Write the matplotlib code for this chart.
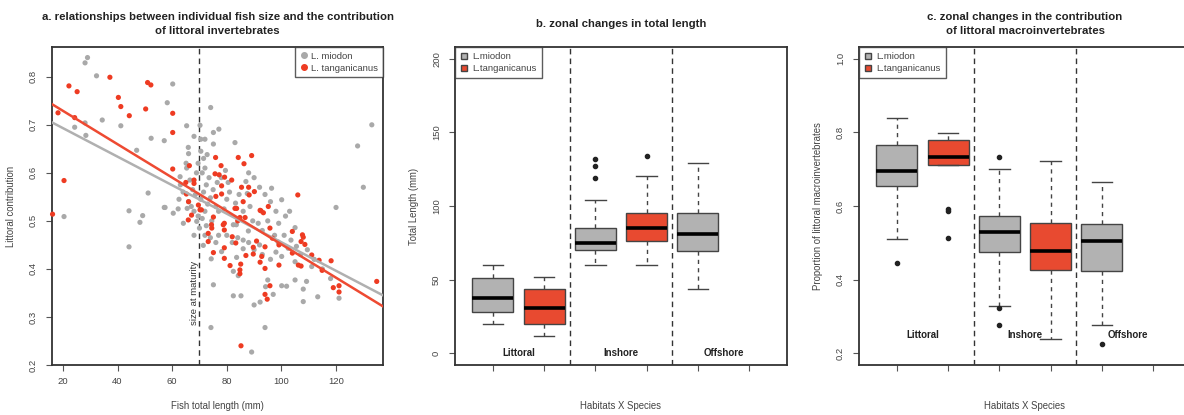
import numpy as np
import matplotlib
matplotlib.use("Agg")
import matplotlib.pyplot as plt
from matplotlib.lines import Line2D

plt.rcParams['font.family'] = ['Liberation Sans', 'DejaVu Sans']

# ---- panel a: individual fish (length mm, littoral contribution) ----
miodon_len = [29.0, 28.1, 32.3, 60.2, 58.2, 74.1, 34.4, 41.2, 28.1, 24.3, 28.4, 52.3, 57.1, 47.0,
              65.3, 70.2, 68.0, 72.0, 75.1, 77.1, 75.1, 83.0, 65.9, 72.8, 51.2, 57.1, 65.1, 100.1,
              96.4, 127.9, 130.0, 133.1, 120.0, 62.9, 68.9, 65.3, 20.4, 44.2, 49.2, 48.2, 44.2, 57.4,
              62.2, 60.4, 64.1, 69.0, 65.5, 71.4, 74.3, 75.1, 74.2, 87.0, 87.5, 83.2, 89.1, 94.0,
              90.0, 92.2, 82.4, 85.2, 97.0, 94.2, 95.0, 100.1, 101.9, 105.0, 108.0, 108.0, 109.2,
              113.3, 121.1, 105.0, 111.1, 100.1, 98.8, 105.0, 102.5, 87.9, 86.0, 83.6, 82.4, 84.2,
              78.1, 82.4, 83.5, 66.5, 67.5, 68.5, 70.5, 71.5, 72.5, 73.5, 71.0, 72.0, 69.5, 67.0,
              68.0, 69.5, 71.0, 72.0, 73.0, 74.0, 75.0, 76.5, 78.0, 79.5, 80.5, 81.0, 80.0, 79.0,
              77.0, 76.0, 74.5, 72.5, 70.0, 68.0, 66.0, 64.0, 63.0, 62.5, 84.5, 86.0, 88.5, 89.5,
              91.5, 93.0, 95.0, 97.5, 99.0, 101.0, 103.5, 105.5, 107.0, 109.5, 112.0, 115.0, 118.0,
              80.0, 82.0, 84.0, 86.0, 88.0, 90.0, 92.0, 93.0, 96.0, 98.0, 72.0, 74.0, 76.0, 77.0,
              88.0, 90.0, 92.0, 94.0, 96.0, 98.0, 101.5, 103.0, 70.5, 71.5, 66.0, 70.5]
miodon_lc = [0.840, 0.829, 0.802, 0.785, 0.746, 0.736, 0.710, 0.698, 0.704, 0.695, 0.678, 0.672, 0.667, 0.647,
             0.698, 0.699, 0.676, 0.670, 0.684, 0.691, 0.660, 0.663, 0.653, 0.638, 0.558, 0.528, 0.620, 0.544,
             0.568, 0.656, 0.570, 0.700, 0.528, 0.592, 0.600, 0.610, 0.509, 0.521, 0.511, 0.497, 0.446, 0.528,
             0.525, 0.516, 0.495, 0.499, 0.526, 0.449, 0.421, 0.367, 0.278, 0.582, 0.557, 0.537, 0.227, 0.278,
             0.325, 0.331, 0.344, 0.344, 0.347, 0.363, 0.377, 0.365, 0.364, 0.377, 0.358, 0.332, 0.374,
             0.342, 0.339, 0.415, 0.405, 0.426, 0.456, 0.486, 0.443, 0.479, 0.442, 0.424, 0.395, 0.386,
             0.436, 0.492, 0.492, 0.585, 0.565, 0.555, 0.545, 0.560, 0.575, 0.590, 0.600, 0.610, 0.620, 0.530,
             0.520, 0.510, 0.505, 0.520, 0.535, 0.548, 0.565, 0.580, 0.590, 0.605, 0.580, 0.560, 0.545, 0.525,
             0.520, 0.530, 0.500, 0.490, 0.485, 0.470, 0.540, 0.560, 0.575, 0.545, 0.555, 0.520, 0.530, 0.500,
             0.495, 0.480, 0.500, 0.470, 0.495, 0.470, 0.460, 0.447, 0.430, 0.440, 0.420, 0.400, 0.380,
             0.470, 0.455, 0.465, 0.460, 0.455, 0.440, 0.450, 0.430, 0.420, 0.435, 0.470, 0.465, 0.455, 0.470,
             0.600, 0.590, 0.570, 0.555, 0.540, 0.520, 0.510, 0.520, 0.645, 0.630, 0.640, 0.670]

tang_len = [22.2, 25.2, 37.2, 51.0, 52.2, 40.3, 41.2, 44.3, 50.3, 60.2, 60.2, 18.2, 24.3, 20.4, 16.2,
            60.2, 65.0, 68.0, 68.0, 65.2, 66.3, 69.6, 70.2, 67.1, 65.9, 75.9, 84.2, 89.1, 86.3, 77.9,
            75.7, 77.2, 79.2, 81.8, 78.1, 85.4, 88.0, 90.1, 88.2, 78.1, 76.0, 106.0, 95.2, 86.0, 83.6,
            92.2, 93.4, 75.1, 86.7, 84.8, 74.4, 78.7, 74.5, 73.2, 73.2, 75.1, 79.1, 79.1, 82.0, 83.3,
            79.1, 79.1, 81.2, 84.8, 84.8, 85.1, 87.0, 89.7, 90.9, 89.7, 92.8, 92.2, 94.0, 94.0, 95.8,
            96.7, 99.1, 99.1, 95.8, 94.0, 94.8, 85.2, 104.0, 104.0, 106.2, 107.2, 107.7, 108.0, 107.2,
            108.6, 111.1, 113.8, 114.9, 118.2, 119.0, 121.1, 121.1, 134.9, 92.5, 83.0, 70.7, 66.0, 84.0]
tang_lc = [0.781, 0.769, 0.799, 0.788, 0.783, 0.757, 0.738, 0.719, 0.733, 0.724, 0.684, 0.725, 0.715, 0.584, 0.514,
           0.608, 0.580, 0.585, 0.578, 0.556, 0.615, 0.533, 0.523, 0.512, 0.502, 0.632, 0.632, 0.636, 0.619, 0.615,
           0.598, 0.596, 0.591, 0.585, 0.573, 0.570, 0.570, 0.561, 0.554, 0.556, 0.551, 0.554, 0.530, 0.540, 0.526,
           0.522, 0.517, 0.508, 0.507, 0.507, 0.492, 0.492, 0.485, 0.474, 0.457, 0.434, 0.495, 0.481, 0.467, 0.454,
           0.444, 0.422, 0.407, 0.398, 0.390, 0.410, 0.428, 0.431, 0.458, 0.445, 0.426, 0.414, 0.446, 0.401, 0.485,
           0.464, 0.450, 0.408, 0.365, 0.347, 0.337, 0.240, 0.478, 0.433, 0.408, 0.406, 0.471, 0.466, 0.457,
           0.451, 0.429, 0.418, 0.397, 0.417, 0.361, 0.365, 0.352, 0.374, 0.521, 0.526, 0.523, 0.540, 0.500]

# fitted lines, read at the panel edges
fit_x = [16, 137.2]
fit_miodon = [0.705, 0.345]
fit_tang = [0.743, 0.322]
maturity = 70

# ---- panels b, c: box stats per habitat x species (positions 1..5) ----
habitats = ["Littoral", "Inshore", "Offshore"]
box_species = ["miodon", "tang", "miodon", "tang", "miodon"]
tl_whislo = [19.6, 11.7, 60.0, 60.0, 43.7]
tl_q1 = [27.9, 19.6, 70.0, 75.9, 69.6]
tl_med = [37.4, 30.9, 74.8, 85.3, 80.9]
tl_q3 = [51.1, 43.7, 85.3, 95.1, 95.1]
tl_whishi = [60.0, 51.8, 104.0, 120.7, 129.3]
tl_fliers = [[], [], [118.7, 127.0, 132.2], [134.2], []]

lc_whislo = [0.509, 0.712, 0.329, 0.240, 0.276]
lc_q1 = [0.655, 0.712, 0.476, 0.427, 0.424]
lc_med = [0.694, 0.734, 0.528, 0.477, 0.506]
lc_q3 = [0.765, 0.779, 0.574, 0.554, 0.551]
lc_whishi = [0.838, 0.797, 0.700, 0.722, 0.666]
lc_fliers = [[0.445], [0.592, 0.586, 0.512], [0.734, 0.324, 0.276], [], [0.224]]

GREY_PT = '#a9a9a9'
RED_PT = '#ee3b22'
GREY_BOX = '#b2b2b2'
RED_BOX = '#e84a30'
EDGE = '#333333'
fills = {"miodon": GREY_BOX, "tang": RED_BOX}

fig = plt.figure(figsize=(11.84, 4.15), dpi=100)
W, H = 1184, 415


def add_ax(left, right):
    return fig.add_axes([left / W, 1 - 365 / H, (right - left) / W, (365 - 47) / H])


def style(ax):
    for s in ax.spines.values():
        s.set_color(EDGE)
        s.set_linewidth(1.3)
    ax.tick_params(length=4, width=0.8, color='#555555', labelsize=6.8, labelcolor='#444444', pad=5)
    ax.tick_params(axis='y', labelrotation=90, pad=6)
    for lab in ax.get_yticklabels():
        lab.set_va('center')


def place_labels(ax):
    ax.xaxis.set_label_coords(0.5, -0.112)
    ax.yaxis.set_label_coords(-0.108, 0.5)


# ---------------- panel a ----------------
ax = add_ax(52, 383)
ax.scatter(miodon_len, miodon_lc, s=14, color=GREY_PT, edgecolors='none', zorder=2, clip_on=False)
ax.scatter(tang_len, tang_lc, s=14, color=RED_PT, edgecolors='none', zorder=3, clip_on=False)
ax.plot(fit_x, fit_miodon, color='#b0b0b0', lw=1.8, zorder=4)
ax.plot(fit_x, fit_tang, color='#ee4a32', lw=1.8, zorder=4)
ax.axvline(maturity, color='#333333', lw=1.0, ls=(0, (4, 3)), zorder=1)
ax.text(maturity - 1.8, 0.35, "size at maturity", rotation=90, ha='center', va='center',
        fontsize=6.8, color='#333333')
ax.set_xlim(16, 137.2)
ax.set_ylim(0.2, 0.862)
ax.set_xticks([20, 40, 60, 80, 100, 120])
ax.set_yticks([0.2, 0.3, 0.4, 0.5, 0.6, 0.7, 0.8])
style(ax)
ax.set_xlabel("Fish total length (mm)", fontsize=6.9, color='#444444')
ax.set_ylabel("Littoral contribution", fontsize=6.9, color='#444444')
place_labels(ax)
ax.text(0.5, 1.072, "a. relationships between individual fish size and the contribution\nof littoral invertebrates",
        transform=ax.transAxes, ha='center', va='center', fontsize=8.2, fontweight='bold', color='#222222',
        linespacing=1.45)
handles = [Line2D([], [], marker='o', ls='none', color=GREY_PT, markersize=4),
           Line2D([], [], marker='o', ls='none', color=RED_PT, markersize=4)]
leg = ax.legend(handles, ["L. miodon", "L. tanganicanus"], loc='upper right', fontsize=6.8,
                frameon=True, fancybox=False, borderaxespad=0, handlelength=0.8, handletextpad=0.4,
                borderpad=0.5, labelspacing=0.3)
leg.get_frame().set_edgecolor(EDGE)
leg.get_frame().set_linewidth(1.0)
for t in leg.get_texts():
    t.set_color('#444444')


# ---------------- panels b and c ----------------
def box_panel(ax, whislo, q1, med, q3, whishi, fliers, ylim, yticks, label_y, title, ylabel):
    stats = []
    for i in range(len(med)):
        stats.append(dict(whislo=whislo[i], q1=q1[i], med=med[i], q3=q3[i], whishi=whishi[i],
                          fliers=fliers[i]))
    bp = ax.bxp(stats, positions=range(1, len(med) + 1), widths=0.8, capwidths=0.4,
                patch_artist=True, showfliers=True,
                boxprops=dict(edgecolor='#444444', linewidth=1.0),
                medianprops=dict(color='black', linewidth=2.6),
                whiskerprops=dict(color='#444444', linewidth=1.0, linestyle=(0, (3, 3))),
                capprops=dict(color='#444444', linewidth=1.0),
                flierprops=dict(marker='o', markerfacecolor='#222222', markeredgecolor='#222222',
                                markersize=3))
    for patch, sp in zip(bp['boxes'], box_species):
        patch.set_facecolor(fills[sp])
    for xv in [2.5, 4.5]:
        ax.axvline(xv, color='#333333', lw=1.0, ls=(0, (4, 3)), zorder=0)
    for k, hab in enumerate(habitats):
        ax.text(1.5 + 2 * k, label_y, hab, ha='center', va='center', fontsize=7, fontweight='bold',
                color='#222222')
    ax.set_xlim(0.26, 6.74)
    ax.set_ylim(*ylim)
    ax.set_xticks(range(1, 7))
    ax.set_xticklabels([])
    ax.set_yticks(yticks)
    style(ax)
    ax.set_xlabel("Habitats X Species", fontsize=6.9, color='#444444')
    ax.set_ylabel(ylabel, fontsize=6.9, color='#444444')
    place_labels(ax)
    ax.text(0.5, 1.072, title, transform=ax.transAxes, ha='center', va='center', fontsize=8.2,
            fontweight='bold', color='#222222', linespacing=1.45)
    hs = [Line2D([], [], marker='s', ls='none', markerfacecolor=GREY_BOX, markeredgecolor='#444444',
                 markersize=5),
          Line2D([], [], marker='s', ls='none', markerfacecolor=RED_BOX, markeredgecolor='#444444',
                 markersize=5)]
    lg = ax.legend(hs, ["L.miodon", "L.tanganicanus"], loc='upper left', fontsize=6.8, frameon=True,
                   fancybox=False, borderaxespad=0, handlelength=0.8, handletextpad=0.5,
                   borderpad=0.55, labelspacing=0.3)
    lg.get_frame().set_edgecolor(EDGE)
    lg.get_frame().set_linewidth(1.0)
    for t in lg.get_texts():
        t.set_color('#444444')


axb = add_ax(455, 787)
box_panel(axb, tl_whislo, tl_q1, tl_med, tl_q3, tl_whishi, tl_fliers, (-8, 208),
          [0, 50, 100, 150, 200], 0, "b. zonal changes in total length", "Total Length (mm)")

axc = add_ax(859, 1191)
box_panel(axc, lc_whislo, lc_q1, lc_med, lc_q3, lc_whishi, lc_fliers, (0.168, 1.032),
          [0.2, 0.4, 0.6, 0.8, 1.0], 0.25,
          "c. zonal changes in the contribution\nof littoral macroinvertebrates",
          "Proportion of littoral macroinvertebrates")

fig.savefig("out.png", dpi=100)
